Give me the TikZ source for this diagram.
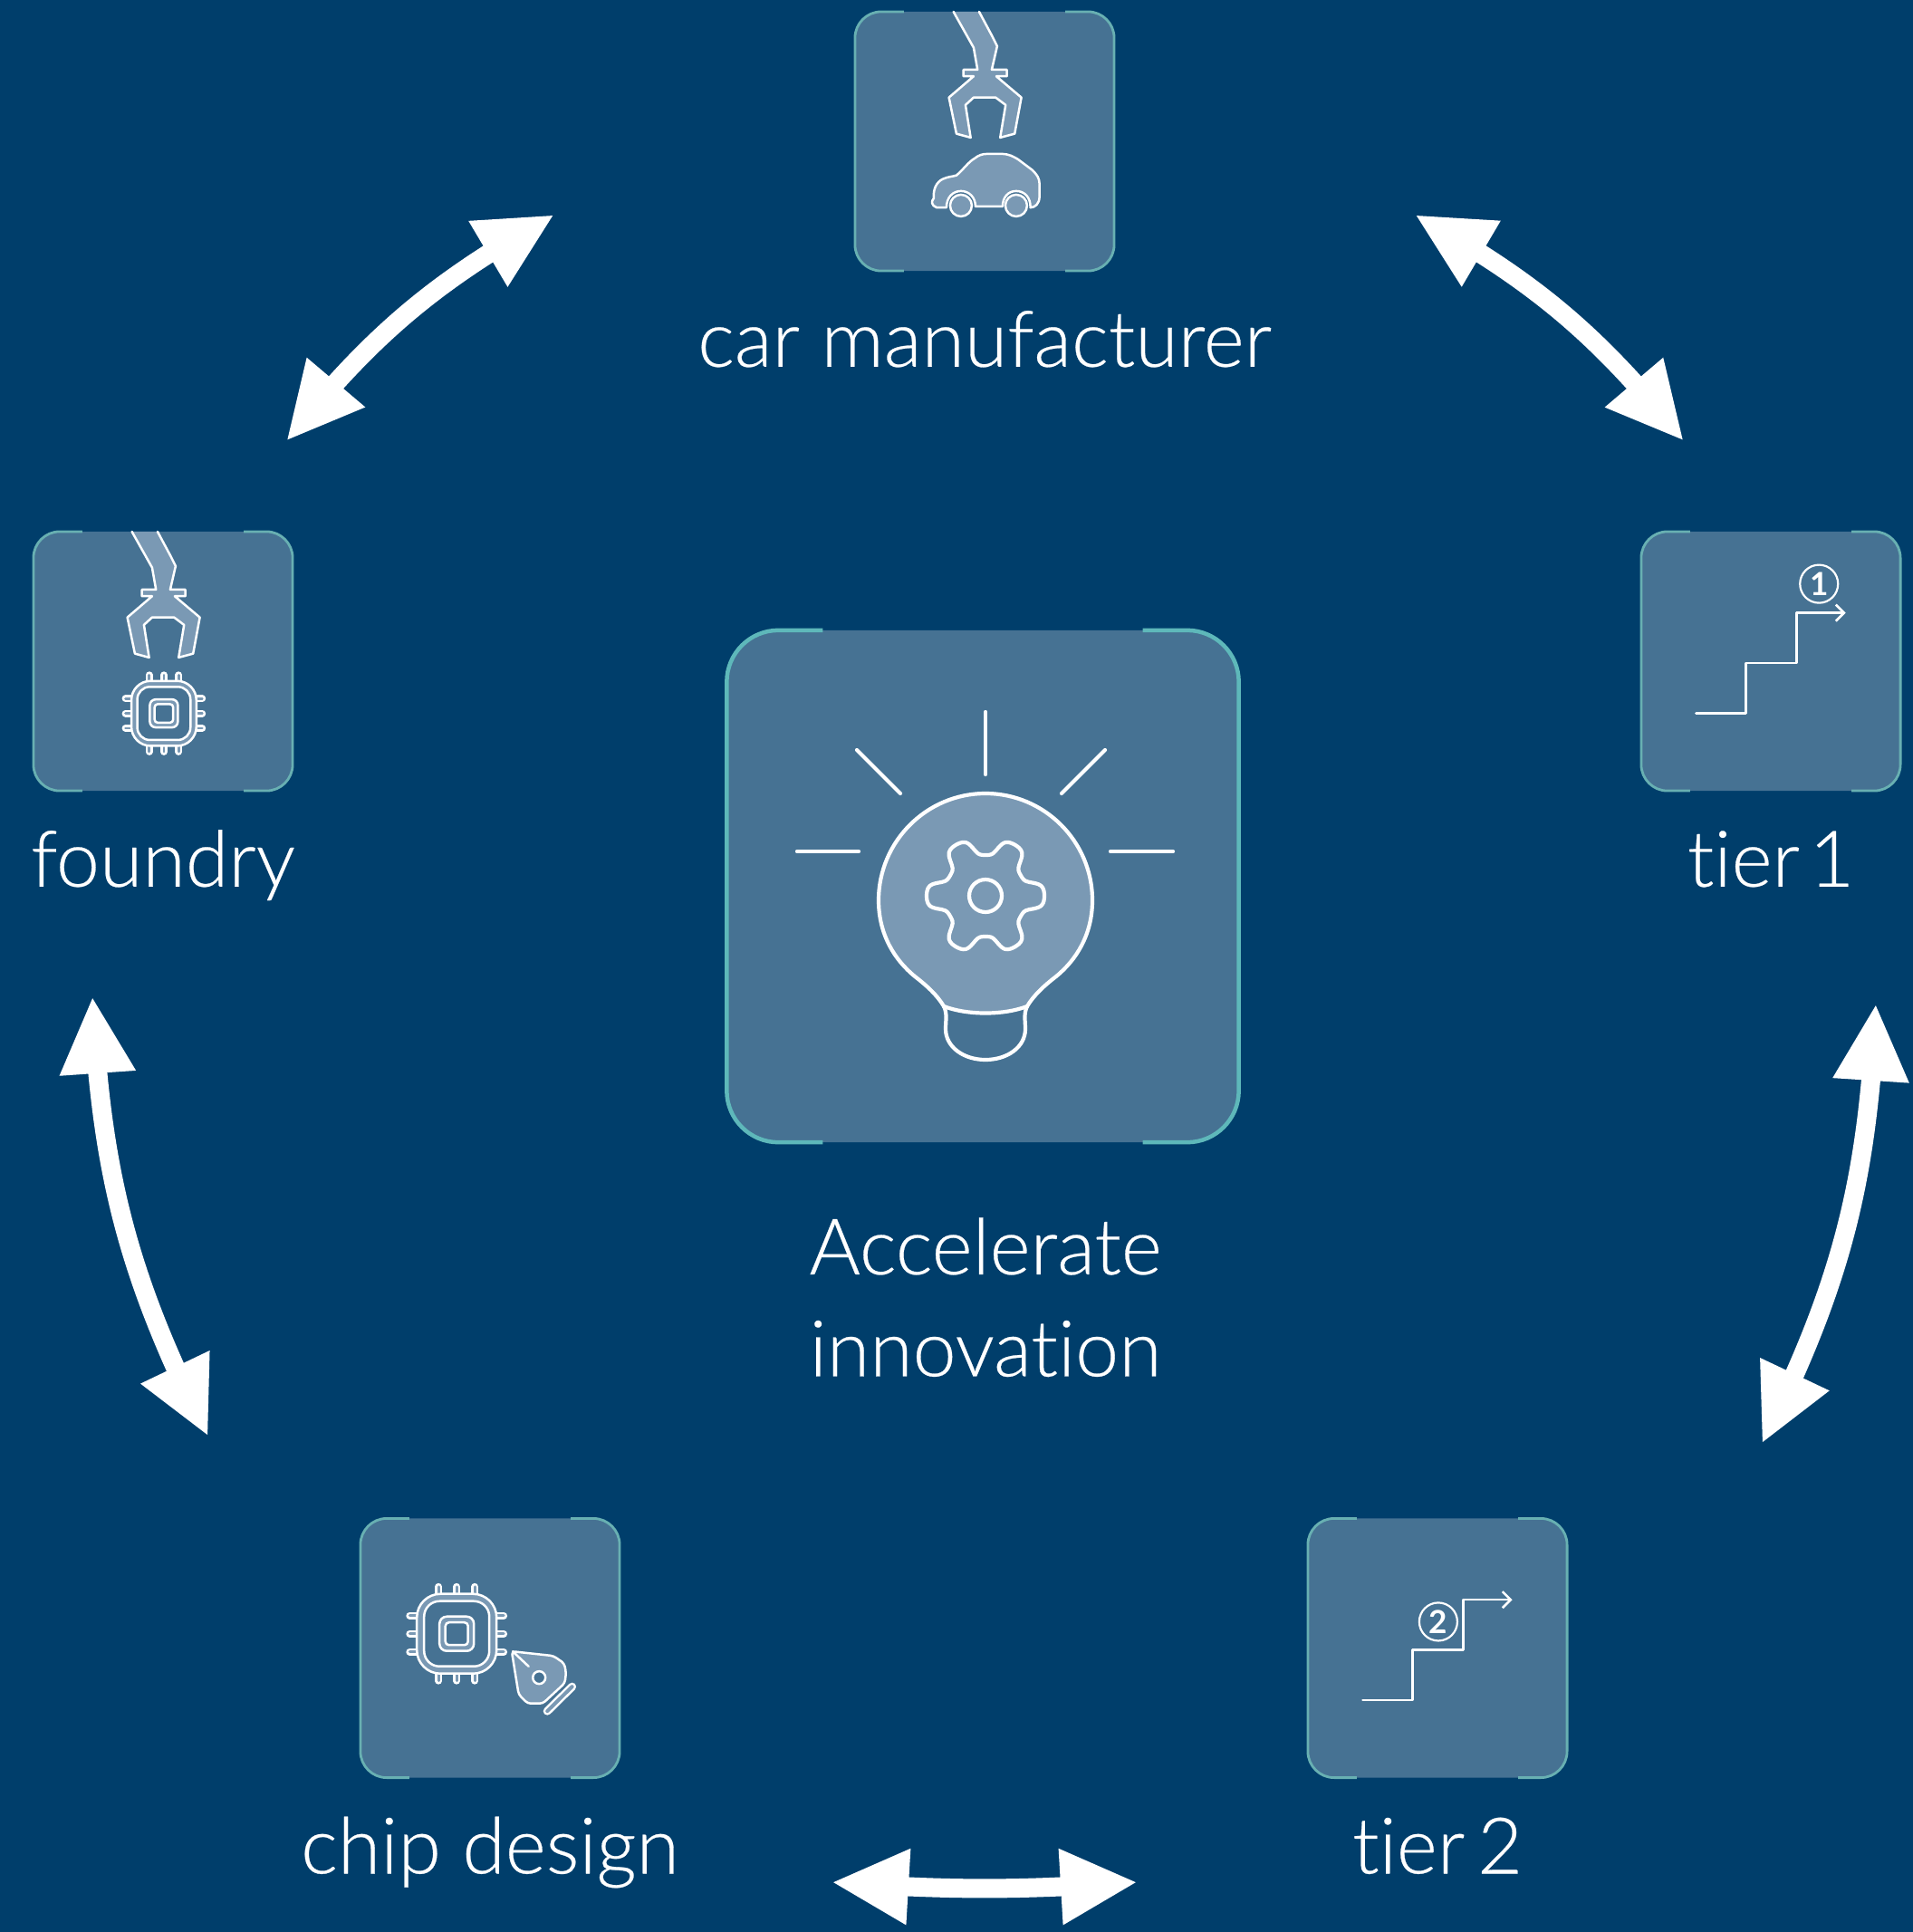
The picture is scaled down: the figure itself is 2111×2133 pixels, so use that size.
\documentclass[tikz,border=0pt]{standalone}
\usepackage{fontspec}
\setmainfont{Lato}[UprightFont=* Light,Ligatures=NoCommon,FakeBold=.3]
\newfontfamily\badgefont{Lato}[Ligatures=NoCommon]
\usetikzlibrary{arrows.meta}
\usetikzlibrary{bending}
\usetikzlibrary{positioning}
\usetikzlibrary{calc}

\definecolor{pagebg}{HTML}{003E6B}
\definecolor{tilebg}{HTML}{467293}
\definecolor{iconbg}{HTML}{7A99B4}
\definecolor{tileedge}{HTML}{68B0B2}

\tikzset{
  tile/.style={fill=tilebg,inner sep=0,outer sep=0,minimum size=2.86cm,rounded corners=.29cm},
  bigtile/.style={tile,minimum size=5.65cm,rounded corners=.57cm},
  edgeline/.style={draw=tileedge,line width=.028cm,rounded corners=.29cm},
  bigedgeline/.style={draw=tileedge!90!cyan,line width=.045cm,rounded corners=.57cm},
  caption/.style={text=white,font=\fontsize{24.5}{32}\selectfont,inner sep=0,text height=.7cm,text depth=.25cm,align=center},
  link/.style={draw=white,line width=.21cm,{Triangle[length=.85cm,width=.78cm]}-{Triangle[length=.85cm,width=.78cm]}},
  icon/.style={draw=white,line width=.025cm,line join=round,line cap=round},
  bulbline/.style={draw=white,line width=.042cm,line join=round,line cap=round},
  pin/.style={draw=white,line width=.025cm,double=iconbg,double distance=.028cm,line cap=round},
  badge/.style={circle,draw=white,line width=.022cm,inner sep=0,minimum size=.42cm,text=white,font=\badgefont\bfseries\fontsize{10}{10}\selectfont},
}

% teal brackets round a tile
\newcommand{\tilecorners}[3]{
  \draw[#3] ($(#1.north west)+(#2,0)$) -- (#1.north west) -- (#1.south west) -- ($(#1.south west)+(#2,0)$);
  \draw[#3] ($(#1.north east)-(#2,0)$) -- (#1.north east) -- (#1.south east) -- ($(#1.south east)-(#2,0)$);
}

\newcommand{\drawclaw}{
  \path[fill=iconbg] (108.7,0) -- (131,39.7) -- (135.3,64) -- (119.7,64) -- (119.7,71.3) -- (131,71.3)
    -- (103.7,94.7) -- (112,134.7) -- (127.7,139) -- (122,103) -- (131,94.7) -- (155.3,94.7) -- (166.3,103)
    -- (160.3,139) -- (176.3,134.7) -- (183.7,94.7) -- (156,71.3) -- (167.7,71.3) -- (167.7,64) -- (151,64)
    -- (157,38) -- (152,28) -- (137,0);
  \draw[icon] (108.7,0) -- (131,39.7) -- (135.3,64) -- (119.7,64) -- (119.7,71.3) -- (131,71.3)
    -- (103.7,94.7) -- (112,134.7) -- (127.7,139) -- (122,103) -- (131,94.7) -- (155.3,94.7) -- (166.3,103)
    -- (160.3,139) -- (176.3,134.7) -- (183.7,94.7) -- (156,71.3) -- (167.7,71.3) -- (167.7,64) -- (151,64)
    -- (157,38) -- (152,28) -- (137,0);
}

\newcommand{\drawchip}[2]{
  \begin{scope}[scale=#1]
    \foreach \d in {-20,0,20} {
      \draw[pin] (\d,-40) -- (\d,-52);
      \draw[pin] (\d,40) -- (\d,52);
      \draw[pin] (-40,\d) -- (-52,\d);
      \draw[pin] (40,\d) -- (52,\d);
    }
    \draw[icon,fill=iconbg,rounded corners=#2*.26cm] (-44,-44) rectangle (44,44);
    \draw[icon,fill=tilebg,rounded corners=#2*.17cm] (-36,-36) rectangle (36,36);
    \draw[icon,fill=iconbg,rounded corners=#2*.08cm] (-19,-19) rectangle (19,19);
    \draw[icon,fill=tilebg,rounded corners=#2*.04cm] (-12.5,-12.5) rectangle (12.5,12.5);
  \end{scope}
}

\newcommand{\drawstairs}{
  \draw[icon,-{Straight Barb[length=.09cm,width=.18cm]}] (60.5,200.7) -- (115.7,200.7) -- (115.7,145)
    -- (171.7,145) -- (171.7,89.7) -- (225.7,89.7);
}

\begin{document}
\begin{tikzpicture}[x=.01cm,y=-.01cm]
    \useasboundingbox (0,0) rectangle (2111,2133);
    \fill[pagebg] (-10,-10) rectangle (2121,2143);

    \node[tile] (car) at (1087,156) {};
    \node[tile] (foundry) at (180,730) {};
    \node[tile] (tierone) at (1955,730) {};
    \node[tile] (tiertwo) at (1587,1819.5) {};
    \node[tile] (chip) at (541,1819.5) {};
    \node[bigtile] (idea) at (1085,978.5) {};

    \foreach \n in {car,foundry,tierone,tiertwo,chip} {
      \tilecorners{\n}{54}{edgeline}
    }
    \tilecorners{idea}{106}{bigedgeline}

    \node[caption,below=.35cm of car] (carlabel) {car manufacturer};
    \node[caption,below=.35cm of foundry] (foundrylabel) {foundry};
    \node[caption,below=.35cm of tierone] (toplabel) {\spaceskip=.12em tier 1};
    \node[caption,below=.35cm of tiertwo] (twolabel) {\spaceskip=.16em tier 2};
    \node[caption,below=.35cm of chip] (chiplabel) {chip design};
    \node[caption,below=.75cm of idea,xshift=.03cm] (idealabel) {Accelerate};
    \node[caption,below=.16cm of idealabel] (idealabeltwo) {innovation};

    % icons
    \begin{scope}[shift={(car.north west)}]
      \drawclaw
      \draw[icon,fill=iconbg] (90.3,216.3) .. controls (84,214) and (84,209) .. (87,206)
        .. controls (86,196) and (90,188) .. (97,184.7) .. controls (103,182) and (108,182) .. (112,180.7)
        .. controls (120,174) and (125,166) .. (132,162) .. controls (137,158) and (141,157) .. (146,157)
        -- (162,157) .. controls (170,157) and (175,160) .. (180,163) -- (196,175)
        .. controls (201,180) and (203.7,184) .. (203.7,190) -- (203.7,204) .. controls (203.7,212) and (199,216) .. (193.7,216.3)
        .. controls (194,205) and (187,198) .. (178,198) .. controls (169,198) and (163,205) .. (163,215)
        -- (133,215) .. controls (133,205) and (126,198) .. (117,198) .. controls (108,198) and (101,205) .. (101,216.3) -- cycle;
      \draw[icon,fill=iconbg] (117,214) circle[radius=12];
      \draw[icon,fill=iconbg] (178,214) circle[radius=12];
    \end{scope}

    \begin{scope}[shift={(foundry.north west)}]
      \drawclaw
      \begin{scope}[shift={(144,200.7)}]
        \drawchip{.815}{.815}
      \end{scope}
    \end{scope}

    \begin{scope}[shift={(chip.north west)}]
      \begin{scope}[shift={(106.3,127.3)}]
        \drawchip{1}{1}
      \end{scope}
      \draw[icon,fill=iconbg,rounded corners=.035cm] (167,146.7) -- (213,151.7) -- (225,160) -- (227,170) -- (225.7,181.7)
        -- (201.3,204.3) -- (184.7,204.3) -- (174.7,194.3) -- cycle;
      \draw[icon] (168,146.7) -- (185.7,163.3);
      \draw[icon,fill=tilebg] (197.3,175.7) circle[radius=7];
      \draw[draw=white,line width=.025cm,double=iconbg,double distance=.04cm,line cap=round] (206.3,212.7) -- (233.7,185.7);
    \end{scope}

    \begin{scope}[shift={(tierone.north west)}]
      \drawstairs
      \node[badge] (oneb) at (196.3,57.7) {1};
    \end{scope}

    \begin{scope}[shift={(tiertwo.north west)}]
      \drawstairs
      \node[badge] (twob) at (144,114) {2};
    \end{scope}

    \begin{scope}[shift={(1088,994)}]
      \path[fill=iconbg] (118,0) .. controls (118,-65) and (65,-118) .. (0,-118) .. controls (-65,-118) and (-118,-65) .. (-118,0)
        .. controls (-118,38) and (-100,66) .. (-78,84) .. controls (-65,94) and (-53,105) .. (-46,117)
        .. controls (-20,127) and (20,127) .. (46,117) .. controls (53,105) and (65,94) .. (78,84)
        .. controls (100,66) and (118,38) .. (118,0) -- cycle;
      \draw[bulbline] (118,0) .. controls (118,-65) and (65,-118) .. (0,-118) .. controls (-65,-118) and (-118,-65) .. (-118,0)
        .. controls (-118,38) and (-100,66) .. (-78,84) .. controls (-65,94) and (-53,105) .. (-46,117)
        .. controls (-20,127) and (20,127) .. (46,117) .. controls (53,105) and (65,94) .. (78,84)
        .. controls (100,66) and (118,38) .. (118,0) -- cycle;
      \draw[bulbline] (-46,117) .. controls (-42,125) and (-44,133) .. (-44,142) .. controls (-44,162) and (-24,176) .. (0,176)
        .. controls (24,176) and (44,162) .. (44,142) .. controls (44,133) and (42,125) .. (46,117);
      % gear
      \draw[bulbline] plot[domain=0:360,samples=145,smooth] ({(55+10*tanh(1.8*cos(6*\x))/tanh(1.8))*cos(\x)},{-5+(55+10*tanh(1.8*cos(6*\x))/tanh(1.8))*sin(\x)});
      \draw[bulbline] (0,-5) circle[radius=18];
      % rays
      \draw[bulbline] (0,-208) -- (0,-139);
      \draw[bulbline] (-208,-54) -- (-140,-54);
      \draw[bulbline] (138,-54) -- (207,-54);
      \draw[bulbline] (-142,-166) -- (-94,-118);
      \draw[bulbline] (132,-166) -- (84,-118);
    \end{scope}

    % the cycle, clockwise
    \coordinate (foundryup) at (316,487);
    \coordinate (carleft) at (612,237);
    \coordinate (carright) at (1562,237);
    \coordinate (oneup) at (1859,487);
    \coordinate (onedown) at (2071,1108);
    \coordinate (twoup) at (1945,1594);
    \coordinate (tworight) at (1256,2078);
    \coordinate (chipright) at (918,2078);
    \coordinate (chipleft) at (230,1586);
    \coordinate (foundrydown) at (102,1100);

    \draw[link] (foundryup) to[bend left=11] (carleft);
    \draw[link] (carright) to[bend left=11] (oneup);
    \draw[link] (onedown) to[bend left=12] (twoup);
    \draw[link] (tworight) to[bend left=4] (chipright);
    \draw[link] (chipleft) to[bend left=12] (foundrydown);
\end{tikzpicture}
\end{document}
